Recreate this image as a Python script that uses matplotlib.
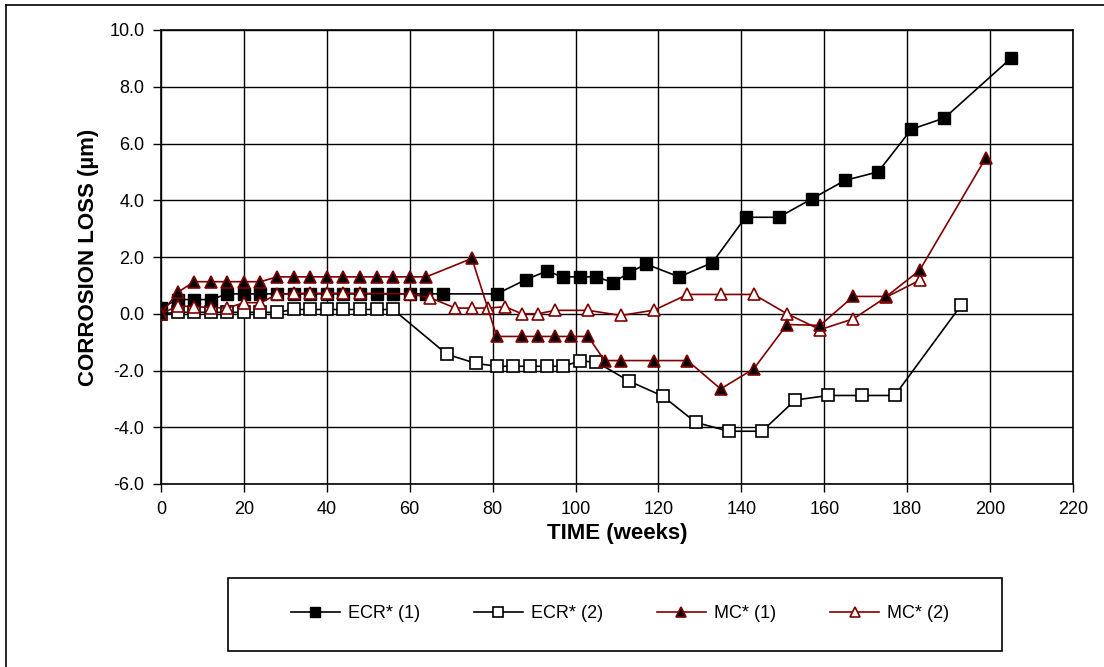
import matplotlib
matplotlib.use("Agg")
import matplotlib.pyplot as plt
from matplotlib.patches import Rectangle
from matplotlib.lines import Line2D

plt.rcParams["font.family"] = ["Liberation Sans", "DejaVu Sans"]

# ---------------------------------------------------------------------------
# Data (weeks, corrosion loss in um)
# ---------------------------------------------------------------------------
ecr1_weeks = [0, 4, 8, 12, 16, 20, 24, 28, 32, 36, 40, 44, 48, 52, 56, 60, 64, 68,
              81, 88, 93, 97, 101, 105, 109, 113, 117, 125, 133, 141, 149, 157,
              165, 173, 181, 189, 205]
ecr1_loss = [0.2, 0.5, 0.5, 0.5, 0.7, 0.7, 0.7, 0.7, 0.7, 0.7, 0.7, 0.7, 0.7, 0.7,
             0.7, 0.7, 0.7, 0.7,
             0.7, 1.2, 1.5, 1.3, 1.3, 1.3, 1.1, 1.45, 1.75, 1.3, 1.8, 3.4, 3.4, 4.05,
             4.7, 5.0, 6.5, 6.9, 9.0]

ecr2_weeks = [0, 4, 8, 12, 16, 20, 24, 28, 32, 36, 40, 44, 48, 52, 56,
              69, 76, 81, 85, 89, 93, 97, 101, 105, 113, 121, 129, 137, 145,
              153, 161, 169, 177, 193]
ecr2_loss = [0.0, 0.05, 0.05, 0.05, 0.05, 0.05, 0.05, 0.05, 0.15, 0.15, 0.15, 0.15,
             0.15, 0.15, 0.15,
             -1.43, -1.75, -1.85, -1.85, -1.85, -1.85, -1.85, -1.67, -1.7, -2.38,
             -2.9, -3.83, -4.14, -4.14, -3.04, -2.88, -2.88, -2.88, 0.3]

mc1_weeks = [0, 4, 8, 12, 16, 20, 24, 28, 32, 36, 40, 44, 48, 52, 56, 60, 64, 75,
             81, 87, 91, 95, 99, 103, 107, 111, 119, 127, 135, 143, 151, 159,
             167, 175, 183, 199]
mc1_loss = [0.0, 0.75, 1.13, 1.13, 1.13, 1.13, 1.13, 1.3, 1.3, 1.3, 1.3, 1.3, 1.3,
            1.3, 1.3, 1.3, 1.3, 1.95,
            -0.8, -0.8, -0.8, -0.8, -0.8, -0.8, -1.65, -1.65, -1.65, -1.65, -2.65,
            -1.94, -0.38, -0.41, 0.61, 0.61, 1.53, 5.5]

mc2_weeks = [0, 4, 8, 12, 16, 20, 24, 28, 32, 36, 40, 44, 48, 60, 65, 71,
             75, 79, 83, 87, 91, 95, 103, 111, 119, 127, 135, 143, 151, 159, 167,
             175, 183]
mc2_loss = [0.0, 0.27, 0.25, 0.22, 0.2, 0.39, 0.39, 0.68, 0.72, 0.72, 0.72, 0.72,
            0.72, 0.7, 0.56, 0.2,
            0.2, 0.2, 0.25, 0.0, 0.0, 0.12, 0.12, -0.06, 0.13, 0.68, 0.68, 0.68,
            0.0, -0.56, -0.18, 0.59, 1.18]

x_ticks = list(range(0, 221, 20))
y_ticks = [-6.0, -4.0, -2.0, 0.0, 2.0, 4.0, 6.0, 8.0, 10.0]

DARK_RED = "#800000"

fig = plt.figure(figsize=(11.04, 6.67), dpi=100)
W, H = 1104, 667
ax = fig.add_axes([161 / W, 1 - 484 / H, (1073 - 161) / W, (484 - 30) / H])

ax.plot(ecr1_weeks, ecr1_loss, color="black", lw=1.2, marker="s", ms=8.5,
        mfc="black", mec="black", label="ECR* (1)", zorder=4)
ax.plot(ecr2_weeks, ecr2_loss, color="black", lw=1.2, marker="s", ms=8.5,
        mfc="white", mec="black", mew=1.2, label="ECR* (2)", zorder=3)
ax.plot(mc1_weeks, mc1_loss, color=DARK_RED, lw=1.2, marker="^", ms=9,
        mfc="black", mec=DARK_RED, mew=1.2, label="MC* (1)", zorder=5)
ax.plot(mc2_weeks, mc2_loss, color=DARK_RED, lw=1.2, marker="^", ms=9,
        mfc="white", mec=DARK_RED, mew=1.2, label="MC* (2)", zorder=4.5)

ax.set_xlim(0, 220)
ax.set_ylim(-6.0, 10.0)
ax.set_xticks(x_ticks)
ax.set_yticks(y_ticks)
ax.set_yticklabels([f"{v:.1f}" for v in y_ticks])
ax.grid(True, color="black", lw=1.0)
ax.set_axisbelow(True)
for s in ax.spines.values():
    s.set_linewidth(1.2)
ax.tick_params(direction="out", length=6, width=1, labelsize=13, pad=6)

ax.set_xlabel("TIME (weeks)", fontsize=16, fontweight="bold", labelpad=4)
ax.set_ylabel("CORROSION LOSS (\u00b5m)", fontsize=16, fontweight="bold",
              labelpad=7)

# Legend box below the plot
fig.add_artist(Rectangle((228 / W, 1 - 651 / H), (1002 - 228) / W, (651 - 578) / H,
                         transform=fig.transFigure, fill=False, lw=1.2,
                         edgecolor="black"))
leg = fig.legend(loc="center", bbox_to_anchor=(620 / W, 1 - 614 / H), ncol=4,
                 frameon=False, fontsize=13, handlelength=2.7, columnspacing=3.0,
                 handletextpad=0.45, markerscale=0.8)

# Outer frame (left and top edges visible in the original)
fig.add_artist(Line2D([6 / W, 6 / W], [0, 1 - 5 / H], transform=fig.transFigure,
                      color="black", lw=1.2))
fig.add_artist(Line2D([6 / W, 1], [1 - 5 / H, 1 - 5 / H], transform=fig.transFigure,
                      color="black", lw=1.2))

fig.savefig("out.png", dpi=100)
